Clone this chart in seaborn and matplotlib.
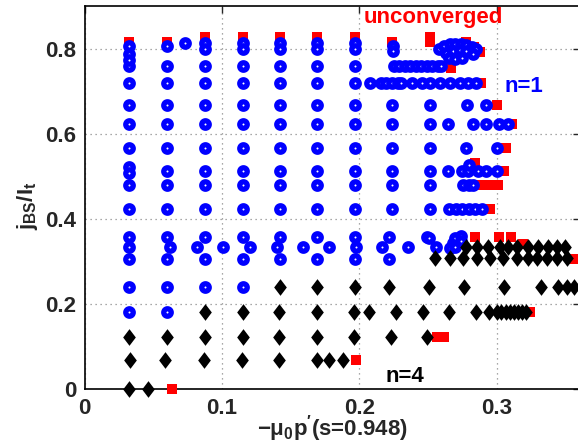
"""
Mapa de convergencia: j_BS/I_t frente a -mu0 p'(s=0.948).
Puntos azules: modo n=1, rombos negros: modo n=4, cuadrados rojos: sin convergencia.
"""
import matplotlib
matplotlib.use("Agg")
import matplotlib.pyplot as plt
import numpy as np
import seaborn as sns

# ─── Datos ───────────────────────────────────────────────────────────────────

# n=1 (azul): filas con el mismo j_BS/I_t
BLUE_ROWS_Y = [0.761, 0.720, 0.669, 0.624, 0.567, 0.514, 0.481, 0.425,
               0.359, 0.3355, 0.307, 0.241, 0.181]
BLUE_ROWS_X = [
    [0.0325, 0.0602, 0.0876, 0.115, 0.1422, 0.1694, 0.1966, 0.2255, 0.229,
     0.233, 0.237, 0.241, 0.245, 0.249, 0.253, 0.257, 0.2596],
    [0.0325, 0.0602, 0.0876, 0.115, 0.1422, 0.1694, 0.1966, 0.2078, 0.2155,
     0.2195, 0.2238, 0.228, 0.2305, 0.238, 0.2455, 0.2515, 0.2588, 0.266,
     0.2734, 0.2794, 0.285],
    [0.0325, 0.0602, 0.0876, 0.115, 0.1422, 0.1694, 0.1966, 0.2238, 0.2512,
     0.2785, 0.2923],
    [0.0325, 0.0602, 0.0876, 0.115, 0.1422, 0.1694, 0.1966, 0.2238, 0.2512,
     0.2648, 0.2826, 0.2923, 0.302, 0.3085],
    [0.0325, 0.0602, 0.0876, 0.115, 0.1422, 0.1694, 0.1966, 0.2238, 0.2512,
     0.2777, 0.300],
    [0.0602, 0.0876, 0.115, 0.1422, 0.1694, 0.1966, 0.2238, 0.2512, 0.2648,
     0.2745, 0.2794, 0.2867, 0.2923, 0.300],
    [0.0325, 0.0602, 0.0876, 0.115, 0.1422, 0.1694, 0.1966, 0.2238, 0.2512,
     0.2755, 0.2795, 0.283],
    [0.0325, 0.0602, 0.0876, 0.115, 0.1422, 0.1694, 0.1966, 0.2238, 0.2512,
     0.2655, 0.2705, 0.2745, 0.2795, 0.2843, 0.2895],
    [0.0325, 0.0602, 0.0876, 0.115, 0.1422, 0.1694, 0.1966, 0.2219, 0.249],
    [0.0325, 0.0621, 0.0816, 0.101, 0.1204, 0.1398, 0.1588, 0.178, 0.1975,
     0.2163, 0.2357, 0.2555],
    [0.0325, 0.0602, 0.0876, 0.115, 0.1422, 0.1694, 0.1966, 0.2219],
    [0.0325, 0.0602, 0.0876, 0.115],
    [0.0325, 0.0602],
]

# n=1 (azul): puntos sueltos y grupos solapados
BLUE_EXTRA_X = [0.0325, 0.0325, 0.0325, 0.0602, 0.073,
                0.0876, 0.0876, 0.115, 0.115, 0.1422, 0.1422, 0.1694, 0.1694,
                0.1966, 0.1966, 0.2245, 0.2245,
                0.258, 0.262, 0.266, 0.270, 0.274, 0.278, 0.282, 0.285,
                0.263, 0.268, 0.273, 0.278, 0.283, 0.265, 0.270, 0.275,
                0.0325, 0.0325, 0.280,
                0.251, 0.266, 0.268, 0.270, 0.274, 0.274, 0.270]
BLUE_EXTRA_Y = [0.808, 0.789, 0.775, 0.808, 0.816,
                0.815, 0.800, 0.815, 0.800, 0.815, 0.800, 0.815, 0.800,
                0.815, 0.800, 0.808, 0.797,
                0.800, 0.808, 0.812, 0.812, 0.812, 0.810, 0.805, 0.800,
                0.792, 0.795, 0.798, 0.795, 0.790, 0.780, 0.778, 0.780,
                0.524, 0.508, 0.528,
                0.357, 0.333, 0.345, 0.357, 0.360, 0.348, 0.335]

# n=4 (negro): filas de rombos
BLACK_ROWS_Y = [0.334, 0.308, 0.241, 0.181, 0.122, 0.069, 0.0]
BLACK_ROWS_X = [
    [0.278, 0.2855, 0.294, 0.3025, 0.3085, 0.3146, 0.323, 0.330, 0.3377,
     0.3438, 0.350],
    [0.2551, 0.2663, 0.2757, 0.2855, 0.2952, 0.3049, 0.3146, 0.323, 0.3292,
     0.3365, 0.3438, 0.351],
    [0.1422, 0.1694, 0.1966, 0.2219, 0.2505, 0.2765, 0.305, 0.332, 0.345,
     0.351, 0.356],
    [0.0876, 0.115, 0.1417, 0.169, 0.1961, 0.2073, 0.2267, 0.2462, 0.2656,
     0.285, 0.2947, 0.3005, 0.3035, 0.3065, 0.3095, 0.3125, 0.3155, 0.3185,
     0.321],
    [0.0325, 0.0602, 0.0876, 0.115, 0.1417, 0.169, 0.1961, 0.2229, 0.2495],
    [0.033, 0.0587, 0.0871, 0.1143, 0.1415, 0.169, 0.178, 0.188],
    [0.0325, 0.0463],
]

# sin convergencia (rojo)
RED_X = [0.0325, 0.0602, 0.0876, 0.115, 0.1422, 0.1694, 0.1966, 0.2235,
         0.2515, 0.2515, 0.278, 0.2835, 0.288,
         0.267, 0.2886, 0.300, 0.311, 0.3068, 0.2845, 0.305,
         0.288, 0.295, 0.301, 0.295,
         0.2845, 0.3015, 0.3105, 0.319, 0.3555,
         0.3243, 0.2567, 0.262, 0.1976, 0.0638]
RED_Y = [0.818, 0.818, 0.828, 0.828, 0.828, 0.828, 0.828, 0.817,
         0.830, 0.818, 0.818, 0.805, 0.794,
         0.757, 0.720, 0.669, 0.624, 0.567, 0.532, 0.514,
         0.481, 0.481, 0.481, 0.425,
         0.359, 0.358, 0.358, 0.341, 0.307,
         0.181, 0.122, 0.122, 0.069, 0.0]

XTICKS = [0, 0.1, 0.2, 0.3]
XTICK_LABELS = ["0", "0.1", "0.2", "0.3"]
YTICKS = [0, 0.2, 0.4, 0.6, 0.8]
YTICK_LABELS = ["0", "0.2", "0.4", "0.6", "0.8"]


def flatten_rows(rows_y, rows_x):
    xs, ys = [], []
    for y, row in zip(rows_y, rows_x):
        xs.extend(row)
        ys.extend([y] * len(row))
    return xs, ys


# ─── Estilo ──────────────────────────────────────────────────────────────────
sns.set_style("white")
plt.rcParams.update({
    "font.family": ["Liberation Sans", "DejaVu Sans"],
    "font.weight": "bold",
    "axes.labelweight": "bold",
    "mathtext.default": "regular",
})

blue_x, blue_y = flatten_rows(BLUE_ROWS_Y, BLUE_ROWS_X)
blue_x += BLUE_EXTRA_X
blue_y += BLUE_EXTRA_Y
black_x, black_y = flatten_rows(BLACK_ROWS_Y, BLACK_ROWS_X)

# rombo algo más alto que ancho (estilo MATLAB)
diamond = [(0, 0.5), (0.38, 0), (0, -0.5), (-0.38, 0)]

fig = plt.figure(figsize=(5.78, 4.43), dpi=100)
ax = fig.add_axes([0.1465, 0.1212, 0.857, 0.8653])

# los marcadores sobre y=0 se ven enteros bajo el eje, como en el original
sns.scatterplot(x=RED_X, y=RED_Y, marker="s", s=62, color="#ff0000",
                linewidth=0, ax=ax, zorder=3, clip_on=False)
sns.scatterplot(x=blue_x, y=blue_y, marker="o", s=29, facecolor="white",
                edgecolor="#0000ff", linewidth=3.8, ax=ax, zorder=4,
                clip_on=False)
sns.scatterplot(x=black_x, y=black_y, marker=diamond, s=144, color="black",
                linewidth=0, ax=ax, zorder=5, clip_on=False)

ax.set_xlim(0, 0.3607)
ax.set_ylim(0, 0.902)
ax.set_xticks(XTICKS, XTICK_LABELS)
ax.set_yticks(YTICKS, YTICK_LABELS)
ax.tick_params(direction="in", top=True, right=True, length=5, width=1,
               labelsize=16, pad=6)
for lab in ax.get_xticklabels() + ax.get_yticklabels():
    lab.set_fontweight("bold")
for sp in ax.spines.values():
    sp.set_linewidth(1.2)
    sp.set_color("black")
    sp.set_zorder(2)

ax.grid(True, linestyle=(0, (1, 3)), color="0.55", linewidth=0.9)
ax.set_axisbelow(True)

ax.set_xlabel(r"$-\mu_0p^{\prime}$(s=0.948)", fontsize=16, fontweight="bold")
ax.set_ylabel(r"$j_{BS}/I_t$", fontsize=16, fontweight="bold")
ax.xaxis.set_label_coords(0.5, -0.062)
ax.yaxis.set_label_coords(-0.09, 0.48)

ax.text(0.2537, 0.874, "unconverged", color="#ff0000", fontsize=16,
        fontweight="bold", ha="center", va="center")
ax.text(0.32, 0.700, "n=1", color="#0000ff", fontsize=16,
        fontweight="bold", ha="center", va="baseline")
ax.text(0.2333, 0.018, "n=4", color="black", fontsize=16,
        fontweight="bold", ha="center", va="baseline")

fig.savefig("out.png", dpi=100)
